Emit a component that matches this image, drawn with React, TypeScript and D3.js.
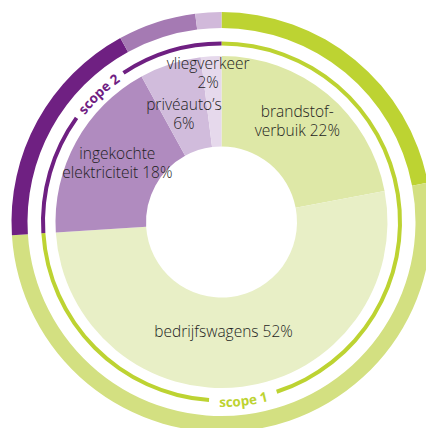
import React from 'react';
import * as d3 from 'd3';

const categories = ['brandstofverbruik', 'bedrijfswagens', 'ingekochte elektriciteit', 'privéauto’s', 'vliegverkeer'];
const values = [22, 52, 18, 6, 2];
const labelLines = [
  ['brandstof-', 'verbuik 22%'],
  ['bedrijfswagens 52%'],
  ['ingekochte', 'elektriciteit 18%'],
  ['privéauto’s', '6%'],
  ['vliegverkeer', '2%'],
];
const scopeOf = ['scope 1', 'scope 1', 'scope 2', 'scope 2', 'scope 2'];
const scopeNames = ['scope 1', 'scope 2'];
const innerColors = ['#dee8a7', '#e8efc6', '#b08bbf', '#d1bcdc', '#e6d9ec'];
const outerColors = ['#bdd332', '#d3e081', '#6f2082', '#a57ab3', '#d1b9da'];
const scopeColors = ['#bdd332', '#6f2082'];

// layout
const W = 426, H = 428;
const cx = 221.5, cy = 222;
const rHole = 75.5, rPie = 166;
const rThinIn = 176.5, rThinOut = 180.5;
const rRingIn = 194, rRingOut = 210;
const labelRadius = [122, 112, 120, 112, 150];
const labelShift = [[-2, -6.5], [-12, -1], [1, -1], [-3, -1], [-4, 1]];
const scopeLabelAngle = [173, 316.2];
const scopeGapHalf = [11, 10.5];
const rad = (d: number) => (d * Math.PI) / 180;

export default function App() {
  const pie = d3.pie<number>().value((d) => d).sort(null);
  const slices = pie(values);
  const innerArc = d3.arc<any>().innerRadius(rHole).outerRadius(rPie);
  const ringArc = d3.arc<any>().innerRadius(rRingIn).outerRadius(rRingOut);
  const thinArc = d3.arc<any>().innerRadius(rThinIn).outerRadius(rThinOut);

  const scopeTotals = scopeNames.map((s) =>
    d3.sum(values.filter((_, i) => scopeOf[i] === s))
  );
  const scopeSlices = pie(scopeTotals);

  const pt = (a: number, r: number) => [r * Math.sin(rad(a)), -r * Math.cos(rad(a))];
  const arcPath = (a0: number, a1: number, r: number) => {
    const [x0, y0] = pt(a0, r);
    const [x1, y1] = pt(a1, r);
    const sweep = a1 > a0 ? 1 : 0;
    return `M${x0},${y0} A${r},${r} 0 0 ${sweep} ${x1},${y1}`;
  };

  const font = "'Open Sans', 'Noto Sans', sans-serif";

  return (
    <svg width={W} height={H} style={{ position: 'absolute', left: 0, top: 0, background: '#fff' }}>
      <g transform={`translate(${cx},${cy})`}>
        {slices.map((s, i) => (
          <path key={'in' + i} d={innerArc(s) as string} fill={innerColors[i]} />
        ))}
        {slices.map((s, i) => (
          <path key={'out' + i} d={ringArc(s) as string} fill={outerColors[i]} />
        ))}
        {scopeSlices.map((s, i) => {
          const la = rad(scopeLabelAngle[i]);
          const gh = rad(scopeGapHalf[i]);
          return (
            <g key={'sc' + i}>
              <path d={thinArc({ startAngle: s.startAngle, endAngle: la - gh }) as string} fill={scopeColors[i]} />
              <path d={thinArc({ startAngle: la + gh, endAngle: s.endAngle }) as string} fill={scopeColors[i]} />
            </g>
          );
        })}
        <defs>
          <path id="scope1path" d={arcPath(scopeLabelAngle[0] + 25, scopeLabelAngle[0] - 25, 185)} />
          <path id="scope2path" d={arcPath(scopeLabelAngle[1] - 25, scopeLabelAngle[1] + 25, 173.5)} />
        </defs>
        {scopeNames.map((s, i) => (
          <text key={'st' + i} fontFamily={font} fontWeight={700} fontSize={13.5} fill={scopeColors[i]}>
            <textPath href={`#scope${i + 1}path`} startOffset="50%" textAnchor="middle">
              {s}
            </textPath>
          </text>
        ))}
        {slices.map((s, i) => {
          const mid = (s.startAngle + s.endAngle) / 2;
          const r = labelRadius[i];
          const x = r * Math.sin(mid) + labelShift[i][0];
          const y = -r * Math.cos(mid) + labelShift[i][1];
          const lines = labelLines[i];
          const lh = 19;
          const y0 = y - ((lines.length - 1) * lh) / 2 + 5;
          return (
            <text key={'lb' + i} x={x} y={y0} textAnchor="middle" fontFamily={font} fontWeight={300} fontSize={15.5} fill="#1e1e1e">
              {lines.map((l, j) => (
                <tspan key={j} x={x} y={y0 + j * lh}>
                  {l}
                </tspan>
              ))}
            </text>
          );
        })}
      </g>
    </svg>
  );
}
